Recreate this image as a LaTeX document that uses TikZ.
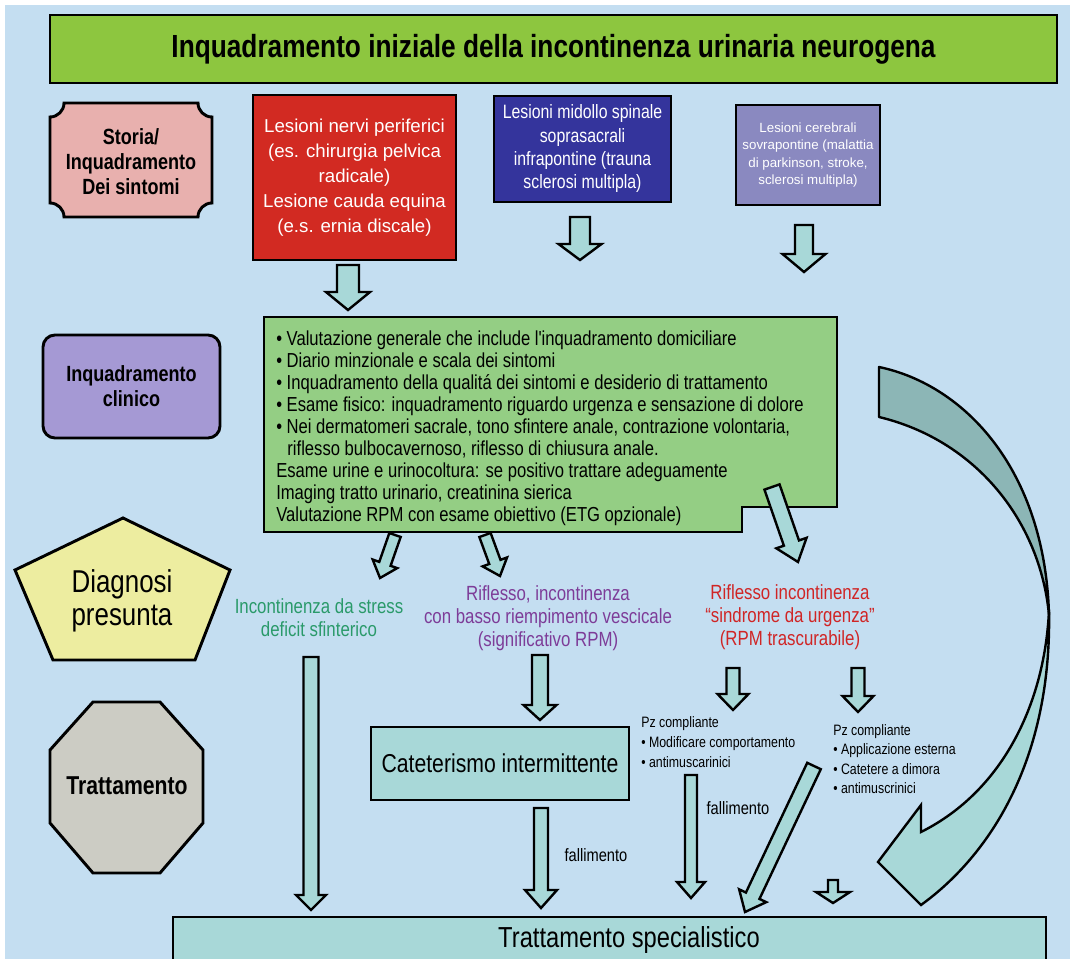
\documentclass[tikz,border=0pt]{standalone}
\usepackage{fontspec}
\setmainfont{Liberation Sans}
\newfontfamily\nar[FakeStretch=0.82]{Liberation Sans}
\usetikzlibrary{calc}

\definecolor{bgblue}{HTML}{C4DEF1}
\definecolor{titlegreen}{HTML}{8DC63F}
\definecolor{storiapink}{HTML}{E8B0AE}
\definecolor{boxred}{HTML}{D22A22}
\definecolor{boxblue}{HTML}{34349C}
\definecolor{boxlav}{HTML}{8A89C0}
\definecolor{clinpurple}{HTML}{A599D4}
\definecolor{clingreen}{HTML}{94CE84}
\definecolor{diagyellow}{HTML}{EDEDA0}
\definecolor{octgray}{HTML}{CCCCC4}
\definecolor{arrowfill}{HTML}{A8D8D8}
\definecolor{ribbondark}{HTML}{8CB6B6}
\definecolor{txtgreen}{HTML}{2A9A6A}
\definecolor{txtpurple}{HTML}{7D3C98}
\definecolor{txtred}{HTML}{D02525}

\tikzset{
  box/.style={draw=black, line width=2.2pt, inner sep=0pt, align=center},
  outline/.style={draw=black, line width=2.2pt, line join=miter},
  barrowstyle/.style={fill=arrowfill, draw=black, line width=1.8pt, line join=miter},
  lbl/.style={inner sep=0pt, align=center},
  lbll/.style={inner sep=0pt, align=left},
}

% block arrow: [style] {from} {to} {shaft width} {head width} {head length}, widths in px
\newcommand\barrow[6][]{%
  \path (#2) coordinate (baS) (#3) coordinate (baE);
  \pgfpointdiff{\pgfpointanchor{baS}{center}}{\pgfpointanchor{baE}{center}}%
  \pgfgetlastxy{\baX}{\baY}%
  \pgfmathsetlengthmacro\baL{veclen(\baX,\baY)}%
  \pgfmathsetmacro\baA{atan2(\baY,\baX)}%
  \pgfmathsetlengthmacro\baW{0.375*#4}%
  \pgfmathsetlengthmacro\baH{0.375*#5}%
  \pgfmathsetlengthmacro\baK{\baL-0.75*#6}%
  \begin{scope}[shift={(baS)}, rotate=\baA]
    \filldraw[barrowstyle,#1] (0pt,-\baW) -- (\baK,-\baW) -- (\baK,-\baH)
      -- (\baL,0pt) -- (\baK,\baH) -- (\baK,\baW) -- (0pt,\baW) -- cycle;
  \end{scope}}

\begin{document}
\begin{tikzpicture}[x=0.75pt, y=-0.75pt]
% canvas
\fill[white] (0,0) rectangle (1070,959);
\fill[bgblue] (5,5) rectangle (1070,959);
\useasboundingbox (0,0) rectangle (1070,959);

% title
\node[box, fill=titlegreen, minimum width=755.25pt, minimum height=51pt,
      font=\nar\bfseries\fontsize{24}{28}\selectfont] (title) at (553.5,49)
  {Inquadramento iniziale della incontinenza urinaria neurogena};

% stage labels on the left
\draw[outline, fill=storiapink] (64,103) -- (198,103) .. controls (198,110.7) and (204.3,117) .. (212,117)
  -- (212,203) .. controls (204.3,203) and (198,209.3) .. (198,217)
  -- (64,217) .. controls (64,209.3) and (57.7,203) .. (50,203)
  -- (50,117) .. controls (57.7,117) and (64,110.7) .. (64,103) -- cycle;
\node[lbl, font=\nar\bfseries\fontsize{16.5}{18.75}\selectfont] (storia) at (131,162)
  {Storia/\\Inquadramento\\Dei sintomi};

\node[box, fill=clinpurple, rounded corners=9pt, minimum width=132.75pt, minimum height=77.25pt,
      font=\nar\bfseries\fontsize{16.5}{18.75}\selectfont] (clinico) at (131.5,386.5)
  {Inquadramento\\clinico};

\draw[outline, fill=diagyellow] (123,518) coordinate (p1) -- (230,570) coordinate (p2)
  -- (195,660) coordinate (p3) -- (53,660) coordinate (p4) -- (15,570) coordinate (p5) -- cycle;
\node[lbl, font=\nar\fontsize{23.7}{24.75}\selectfont] (diagnosi) at (122,601)
  {Diagnosi\\presunta};

\draw[outline, fill=octgray] (93,702) -- (160,702) -- (203,750) -- (203,823)
  -- (160,873) -- (93,873) -- (50,823) -- (50,750) -- cycle;
\node[lbl, font=\nar\bfseries\fontsize{19.4}{22}\selectfont] (tratt) at (127,786) {Trattamento};

% lesion boxes
\node[box, fill=boxred, text=white, minimum width=152.25pt, minimum height=123.75pt,
      font=\fontsize{14}{18.75}\selectfont] (periferici) at (354.5,177.5)
  {Lesioni nervi periferici\\(es. chirurgia pelvica\\radicale)\\Lesione cauda equina\\(e.s. ernia discale)};
\node[box, fill=boxblue, text=white, minimum width=132.75pt, minimum height=79.5pt,
      font=\nar\fontsize{14.5}{17.5}\selectfont] (midollo) at (582.5,149)
  {Lesioni midollo spinale\\soprasacrali\\infrapontine (trauna\\sclerosi multipla)};
\node[box, fill=boxlav, text=white, minimum width=108pt, minimum height=75pt,
      font=\fontsize{10}{13.1}\selectfont] (cerebrali) at (808,155)
  {Lesioni cerebrali\\sovrapontine (malattia\\di parkinson, stroke,\\sclerosi multipla)};

% clinical assessment box with notched corner
\draw[outline, fill=clingreen] (264,317) coordinate (cl1) -- (837,317) -- (837,507)
  -- (742,507) -- (742,532) -- (264,532) -- cycle;
\node[lbll, anchor=north west, font=\nar\fontsize{15.2}{16.5}\selectfont] (valutazione) at (276,331)
  {\textbullet\ Valutazione generale che include l'inquadramento domiciliare\\
   \textbullet\ Diario minzionale e scala dei sintomi\\
   \textbullet\ Inquadramento della qualitá dei sintomi e desiderio di trattamento\\
   \textbullet\ Esame fisico: inquadramento riguardo urgenza e sensazione di dolore\\
   \textbullet\ Nei dermatomeri sacrale, tono sfintere anale, contrazione volontaria,\\
   \hspace*{0.55em}riflesso bulbocavernoso, riflesso di chiusura anale.\\
   Esame urine e urinocoltura: se positivo trattare adeguamente\\
   Imaging tratto urinario, creatinina sierica\\
   Valutazione RPM con esame obiettivo (ETG opzionale)};

% presumed diagnoses
\node[lbl, text=txtgreen, font=\nar\fontsize{15.4}{17.25}\selectfont] (stress) at (319,618)
  {Incontinenza da stress\\deficit sfinterico};
\node[lbl, text=txtpurple, font=\nar\fontsize{15.4}{17.25}\selectfont] (rifl1) at (548,618)
  {Riflesso, incontinenza\\con basso riempimento vescicale\\(significativo RPM)};
\node[lbl, text=txtred, font=\nar\fontsize{15.4}{17.25}\selectfont] (rifl2) at (790,617)
  {Riflesso incontinenza\\“sindrome da urgenza”\\(RPM trascurabile)};

% treatments
\node[box, fill=arrowfill, minimum width=193.5pt, minimum height=54.75pt,
      font=\nar\fontsize{19.4}{22}\selectfont] (cateterismo) at (500,763.5)
  {Cateterismo intermittente};
\node[lbll, anchor=north west, font=\nar\fontsize{11.3}{15}\selectfont] (pz1) at (641,716)
  {Pz compliante\\\textbullet\ Modificare comportamento\\\textbullet\ antimuscarinici};
\node[lbll, anchor=north west, font=\nar\fontsize{11.3}{14.6}\selectfont] (pz2) at (833,724)
  {Pz compliante\\\textbullet\ Applicazione esterna\\\textbullet\ Catetere a dimora\\\textbullet\ antimuscrinici};
\node[lbl, font=\nar\fontsize{13.4}{15}\selectfont] (fall1) at (596,855) {fallimento};
\node[lbl, font=\nar\fontsize{13.4}{15}\selectfont] (fall2) at (738,808) {fallimento};

\node[box, fill=arrowfill, minimum width=654.75pt, minimum height=43.5pt] (spec) at (609.5,946) {};
\node[lbl, font=\nar\fontsize{21.7}{24}\selectfont] (spectext) at (629,940) {Trattamento specialistico};

% block arrows
\barrow{348,265}{348,310}{22}{44}{18}
\barrow{580,217}{580,260}{20}{43}{16}
\barrow{804,225}{804,272}{18}{43}{18}
\barrow{395,535}{380,578}{12}{26}{15}
\barrow{485,535}{500,576}{12}{26}{15}
\barrow{772,487}{798,562}{16}{32}{20}
\barrow{311,657}{311,910}{15}{30}{15}
\barrow{540,655}{540,720}{16}{33}{15}
\barrow{541,808}{541,908}{14}{32}{18}
\barrow{733,668}{733,710}{13}{31}{16}
\barrow{858,668}{858,712}{13}{31}{16}
\barrow{691,775}{691,898}{12}{28}{16}
\barrow{814,766}{745,912}{15}{30}{18}
\barrow{833,880}{833,903}{10}{34}{11}

% large curved arrow on the right
\filldraw[fill=ribbondark, draw=black, line width=1.8pt, line join=round]
  (879,367) .. controls (965,385) and (1045,470) .. (1049,615)
  .. controls (1040,520) and (975,440) .. (879,417) -- cycle;
\filldraw[fill=arrowfill, draw=black, line width=1.8pt, line join=miter]
  (1049,610) .. controls (1045,700) and (1005,790) .. (921,832)
  -- (921,805) -- (878,862) -- (921,905)
  .. controls (990,855) and (1052,760) .. (1049,610) -- cycle;
\end{tikzpicture}
\end{document}
